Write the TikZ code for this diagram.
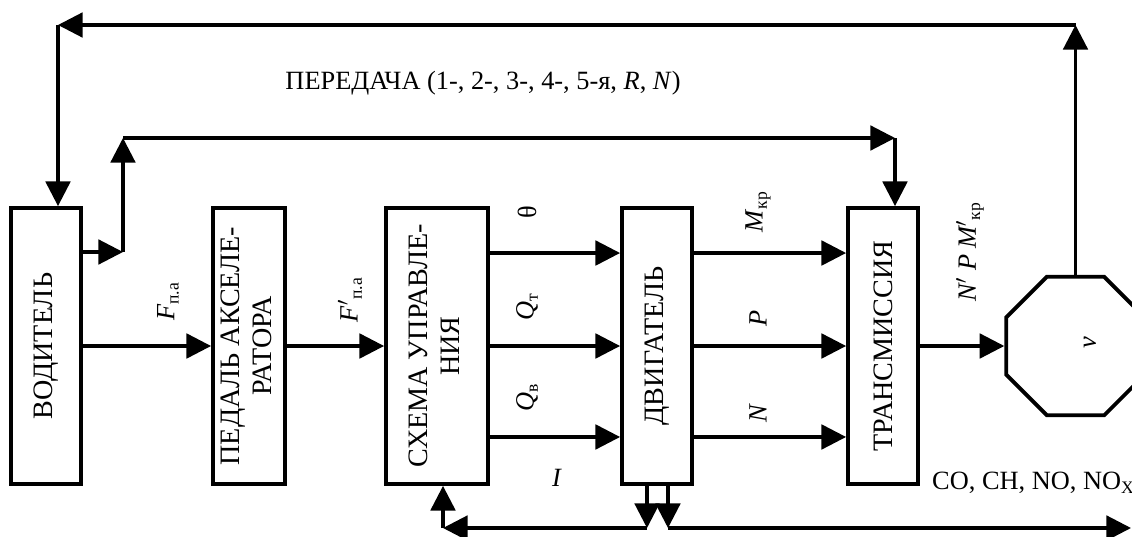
\documentclass[tikz,border=0pt]{standalone}
\usepackage{fontspec}
\setmainfont{Liberation Serif}
\usetikzlibrary{positioning,arrows.meta,shapes.geometric}
\newcommand{\lowidx}[1]{\raisebox{-0.35ex}{\fontsize{10}{12}\selectfont #1}}
\tikzset{
  every node/.append style={font=\fontsize{15}{17}\selectfont},
  blk/.style={draw, line width=2.2pt, minimum height=5.52cm, inner sep=0pt, align=center,
              font=\fontsize{16}{18}\selectfont},
  arr/.style={-{Triangle[length=14pt,width=14pt]}, line width=1.8pt},
  lbl/.style={inner sep=1pt},
  vlbl/.style={lbl, rotate=90},
}

\begin{document}
\begin{tikzpicture}[x=0.02cm,y=-0.02cm]
  \useasboundingbox (0,0) rectangle (1132,537);
  \clip (0,0) rectangle (1132,537);
  % --- blocks ---
  \node[blk, minimum width=1.4cm] (drv) at (46,346) {\rotatebox{90}{ВОДИТЕЛЬ}};
  \node[blk, minimum width=1.44cm] (ped) at (249,346)
    {\rotatebox{90}{\begin{tabular}{@{}c@{}}ПЕДАЛЬ АКСЕЛЕ-\\РАТОРА\end{tabular}}};
  \node[blk, minimum width=2.04cm] (ctl) at (437,346)
    {\rotatebox{90}{\begin{tabular}{@{}c@{}}СХЕМА УПРАВЛЕ-\\НИЯ\end{tabular}}};
  \node[blk, minimum width=1.4cm] (eng) at (657,346) {\rotatebox{90}{ДВИГАТЕЛЬ}};
  \node[blk, minimum width=1.4cm] (trn) at (883,346) {\rotatebox{90}{ТРАНСМИССИЯ}};
  \node[draw, line width=2.2pt, regular polygon, regular polygon sides=8,
        minimum size=3cm, inner sep=0pt] (spd) at (1075.5,346) {};
  \node[vlbl] (nu) at (1090,343) {\textit{ν}};
  % --- top loop: gear choice ---
  \coordinate (tl) at (58,25);
  \coordinate (tr) at (spd.north |- tl);
  \draw[arr] (spd.north) -- (tr);
  \draw[arr] (tr) -- (tl);
  \draw[arr] (tl) -- (tl |- drv.north);
  \node[lbl] (gear) at (483,83) {ПЕРЕДАЧА (1-, 2-, 3-, 4-, 5-я, \textit{R}, \textit{N})};
  % --- driver to transmission ---
  \coordinate (c1) at (123,252);
  \coordinate (c2) at (123,138);
  \coordinate (c3) at (895,138);
  \draw[arr] (drv.east |- c1) -- (c1);
  \draw[arr] (c1) -- (c2);
  \draw[arr] (c2) -- (c3);
  \draw[arr] (c3) -- (c3 |- trn.north);
  % --- main chain ---
  \draw[arr] (drv.east) -- (ped.west);
  \draw[arr] (ped.east) -- (ctl.west);
  \foreach \s in {1.86cm,0cm,-1.82cm}{
    \draw[arr] ([yshift=\s]ctl.east) -- ([yshift=\s]eng.west);
    \draw[arr] ([yshift=\s]eng.east) -- ([yshift=\s]trn.west);}
  \draw[arr] (trn.east) -- (trn.east -| spd.west);
  \node[vlbl] (fpa) at (168,302) {\textit{F}\lowidx{п.а}};
  \node[vlbl] (fpa2) at (350,300) {\textit{F}$'$\lowidx{п.а}};
  \node[vlbl] (th) at (527,212) {θ};
  \node[vlbl] (qt) at (527,307) {\textit{Q}\lowidx{т}};
  \node[vlbl] (qv) at (527,398) {\textit{Q}\lowidx{в}};
  \node[lbl] (cur) at (557,478) {\textit{I}};
  \node[vlbl] (mkr) at (758,212) {\textit{M}\lowidx{кр}};
  \node[vlbl] (pw) at (758,318) {\textit{P}};
  \node[vlbl] (rpm) at (758,413) {\textit{N}};
  \node[vlbl] (tout) at (970,252) {\textit{N$'$ P M$'$}\lowidx{кр}};
  % --- bottom: feedback and exhaust ---
  \coordinate (b0) at (443,528);
  \coordinate (b1) at (647,528);
  \coordinate (b2) at (668,528);
  \coordinate (be) at (1131,528);
  \draw[arr] (b1 |- eng.south) -- (b1);
  \draw[arr] (b2 |- eng.south) -- (b2);
  \draw[arr] (b1) -- (b0);
  \draw[arr] (b0) -- (b0 |- ctl.south);
  \draw[arr] (b2) -- (be);
  \node[lbl] (gas) at (1033,483) {CO, CH, NO, NO\lowidx{X}};
\end{tikzpicture}
\end{document}
